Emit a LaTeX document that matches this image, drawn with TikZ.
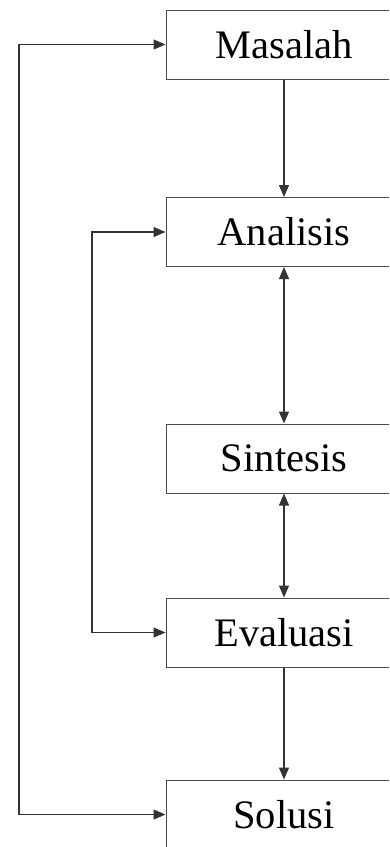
\documentclass[tikz,border=0pt]{standalone}
\usepackage{fontspec}
\setmainfont{Liberation Serif}
\usetikzlibrary{arrows.meta}

\tikzset{
    stagebox/.style={draw=black!70, line width=1pt, fill=white,
        minimum width=236pt, minimum height=69pt, inner sep=0pt,
        font=\fontsize{40.5}{46}\selectfont},
    link/.style={draw=black!80, line width=1.1pt,
        -{Triangle[length=12pt,width=10pt]}},
    dlink/.style={link, {Triangle[length=12pt,width=10pt]}-{Triangle[length=12pt,width=10pt]}}
}

\begin{document}
\begin{tikzpicture}[x=1pt, y=-1pt]
    \clip (0, 0) rectangle (389, 847);
    \fill[white] (0, 0) rectangle (389, 847);
    \begin{scope}
        \node[stagebox] (masalah) at (284, 44.5) {Masalah};
        \node[stagebox] (analisis) at (284, 232) {Analisis};
        \node[stagebox] (sintesis) at (284, 458.5) {Sintesis};
        \node[stagebox] (evaluasi) at (284, 632.5) {Evaluasi};
        \node[stagebox] (solusi) at (284, 814.5) {Solusi};
        \coordinate (outer) at (19, 0);
        \coordinate (inner) at (92, 0);
        \draw[link] (masalah) -- (analisis);
        \draw[dlink] (analisis) -- (sintesis);
        \draw[dlink] (sintesis) -- (evaluasi);
        \draw[link] (evaluasi) -- (solusi);
        \draw[dlink] (masalah.west)
            -- (masalah.west -| outer)
            -- (solusi.west -| outer)
            -- (solusi.west);
        \draw[dlink] (analisis.west)
            -- (analisis.west -| inner)
            -- (evaluasi.west -| inner)
            -- (evaluasi.west);
    \end{scope}
\end{tikzpicture}
\end{document}
